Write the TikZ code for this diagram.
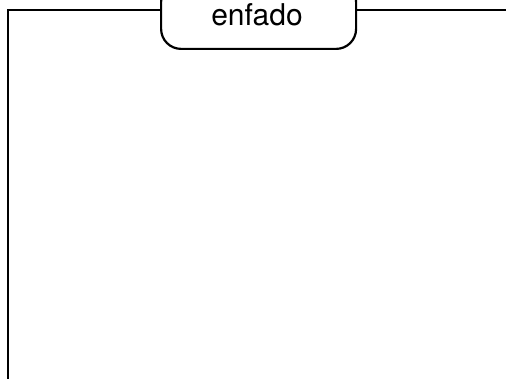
\documentclass[tikz,border=0pt]{standalone}
\usepackage{fontspec}
\setmainfont{TeX Gyre Heros}
\tikzset{
  framebox/.style={draw=black, line width=2.2pt, rounded corners=20pt, minimum width=195pt, minimum height=67pt, inner sep=0pt},
  frameline/.style={draw=black, line width=2.2pt},
  labeltext/.style={font=\fontsize{30}{32}\selectfont, inner sep=0pt}
}
\begin{document}
\begin{tikzpicture}[x=1pt,y=1pt]
\useasboundingbox (0,0) rectangle (506,378);
\clip (0,0) rectangle (506,378);
\node[framebox, anchor=south west] (box) at (160,328) {};
\node[labeltext, anchor=base] (lbl) at (257,352) {enfado};
\coordinate (bl) at (8,-5);
\coordinate (tl) at (8,368);
\coordinate (tr) at (515,368);
\draw[frameline] (bl) -- (tl) -- (box.west |- tl);
\draw[frameline] (box.east |- tr) -- (tr);
\end{tikzpicture}
\end{document}
